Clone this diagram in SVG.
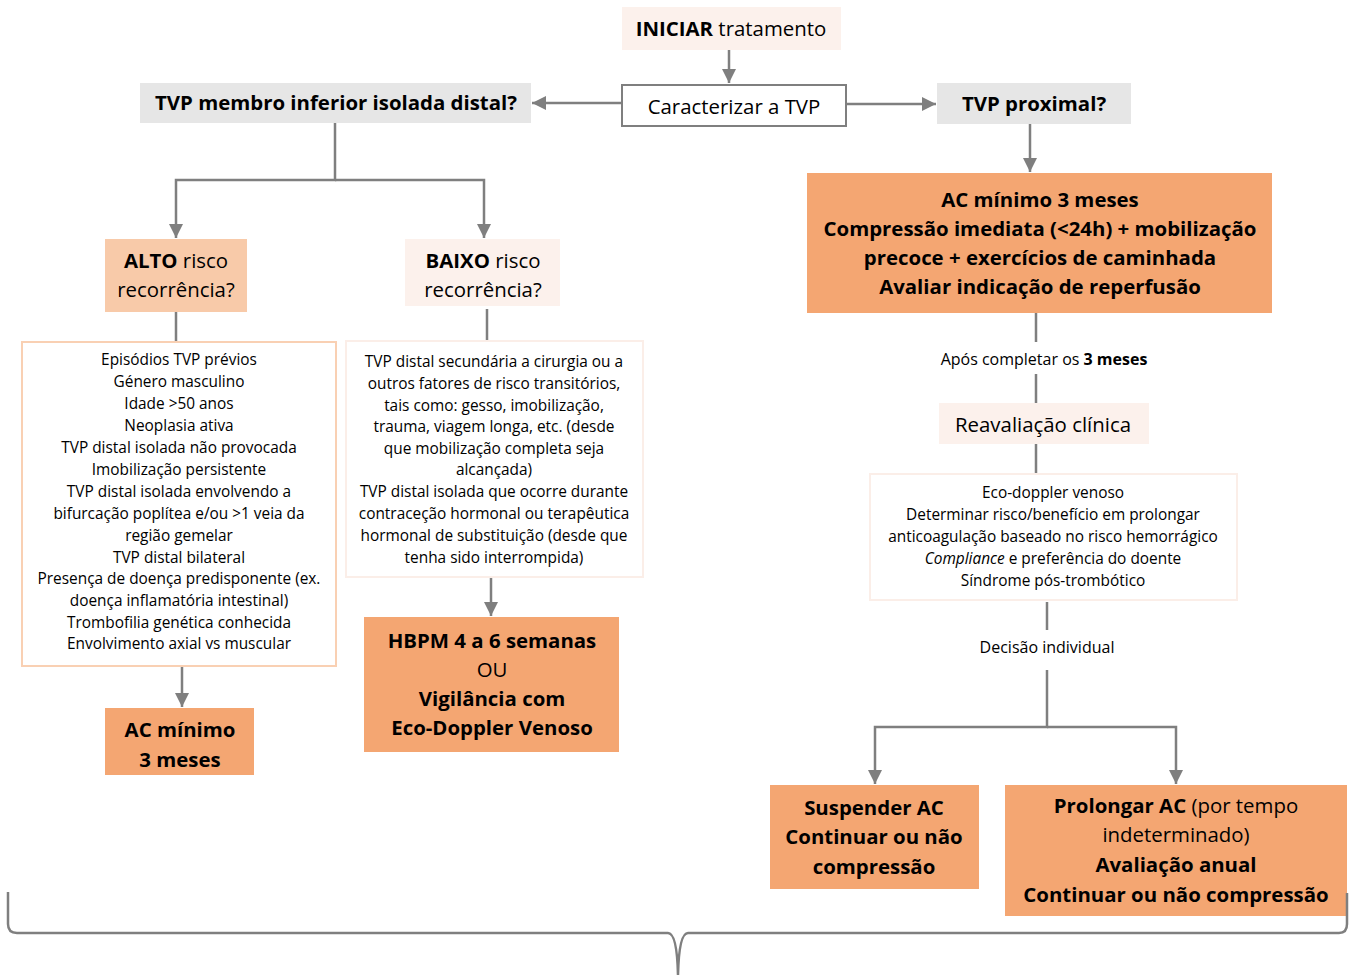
<svg xmlns="http://www.w3.org/2000/svg" width="1351" height="978" viewBox="0 0 1351 978">
<defs>
<marker id="ah" viewBox="0 0 10 10" refX="10" refY="5" markerWidth="14" markerHeight="14" markerUnits="userSpaceOnUse" orient="auto">
<path d="M0,0 L10,5 L0,10 z" fill="#7f7f7f"/>
</marker>
<style>
text{font-family:"Open Sans","Noto Sans","DejaVu Sans",sans-serif;fill:#000;text-anchor:middle}
.t20{font-size:20.4px}
.t16{font-size:16px}
.t15{font-size:15.4px}
.b{font-weight:bold}
.orange{fill:#f4a672}
.lorange{fill:#f8caa9}
.pale{fill:#fcf1ec}
.gray{fill:#e6e6e6}
.conn{fill:none;stroke:#7f7f7f;stroke-width:2.5}
.arr{marker-end:url(#ah)}
</style>
</defs>
<rect width="1351" height="978" fill="#fff"/>

<g id="connectors">
<path class="conn arr" d="M729,50 V83"/>
<path class="conn arr" d="M622,103 H532"/>
<path class="conn arr" d="M846,104 H936"/>
<path class="conn arr" d="M1030,124 V172"/>
<path class="conn arr" d="M335,123 V180 H176 V238"/>
<path class="conn arr" d="M335,180 H484 V238"/>
<path class="conn" d="M176,312 V342"/>
<path class="conn" d="M487,309 V340"/>
<path class="conn arr" d="M182,666 V707"/>
<path class="conn arr" d="M491,577 V616"/>
<path class="conn" d="M1036,313 V342"/>
<path class="conn" d="M1036,374 V403"/>
<path class="conn" d="M1036,444 V473"/>
<path class="conn" d="M1047,602 V630"/>
<path class="conn arr" d="M1047,670 V727 H875 V784"/>
<path class="conn arr" d="M1047,727 H1176 V784"/>
</g>

<g id="iniciar">
<rect class="pale" x="622" y="7" width="219" height="43"/>
<text class="t20" x="731" y="36"><tspan class="b">INICIAR</tspan> tratamento</text>
</g>

<g id="caracterizar">
<rect x="622" y="85" width="224" height="41" fill="#fff" stroke="#7f7f7f" stroke-width="2"/>
<text class="t20" x="734" y="114">Caracterizar a TVP</text>
</g>

<g id="tvp-distal">
<rect class="gray" x="140" y="83" width="391" height="40"/>
<text class="t20 b" x="336" y="110">TVP membro inferior isolada distal?</text>
</g>

<g id="tvp-proximal">
<rect class="gray" x="937" y="83" width="194" height="41"/>
<text class="t20 b" x="1034" y="111">TVP proximal?</text>
</g>

<g id="ac-proximal">
<rect class="orange" x="807" y="173" width="465" height="140"/>
<text class="t20 b" x="1040" y="207">AC mínimo 3 meses</text>
<text class="t20 b" x="1040" y="236">Compressão imediata (&lt;24h) + mobilização</text>
<text class="t20 b" x="1040" y="265">precoce + exercícios de caminhada</text>
<text class="t20 b" x="1040" y="294">Avaliar indicação de reperfusão</text>
</g>

<g id="apos">
<text class="t16" x="1044" y="365">Após completar os <tspan class="b">3 meses</tspan></text>
</g>

<g id="reavaliacao">
<rect class="pale" x="939" y="403" width="210" height="41"/>
<text class="t20" x="1043" y="432">Reavaliação clínica</text>
</g>

<g id="reav-list">
<rect x="870" y="474" width="367" height="126" fill="#fff" stroke="#fbeee8" stroke-width="2"/>
<text class="t15" x="1053" y="498">Eco-doppler venoso</text>
<text class="t15" x="1053" y="520">Determinar risco/benefício em prolongar</text>
<text class="t15" x="1053" y="542">anticoagulação baseado no risco hemorrágico</text>
<text class="t15" x="1053" y="564"><tspan font-style="italic">Compliance</tspan> e preferência do doente</text>
<text class="t15" x="1053" y="586">Síndrome pós-trombótico</text>
</g>

<g id="decisao">
<text class="t16" x="1047" y="653">Decisão individual</text>
</g>

<g id="suspender">
<rect class="orange" x="770" y="785" width="209" height="104"/>
<text class="t20 b" x="874" y="815">Suspender AC</text>
<text class="t20 b" x="874" y="844">Continuar ou não</text>
<text class="t20 b" x="874" y="874">compressão</text>
</g>

<g id="prolongar">
<rect class="orange" x="1005" y="785" width="342" height="131"/>
<text class="t20" x="1176" y="813"><tspan class="b">Prolongar AC</tspan> (por tempo</text>
<text class="t20" x="1176" y="842">indeterminado)</text>
<text class="t20 b" x="1176" y="872">Avaliação anual</text>
<text class="t20 b" x="1176" y="902">Continuar ou não compressão</text>
</g>

<g id="alto">
<rect class="lorange" x="105" y="239" width="142" height="73"/>
<text class="t20" x="176" y="268"><tspan class="b">ALTO</tspan> risco</text>
<text class="t20" x="176" y="297">recorrência?</text>
</g>

<g id="baixo">
<rect class="pale" x="405" y="239" width="155" height="67"/>
<text class="t20" x="483" y="268"><tspan class="b">BAIXO</tspan> risco</text>
<text class="t20" x="483" y="297">recorrência?</text>
</g>

<g id="alto-list">
<rect x="22" y="342" width="314" height="324" fill="#fff" stroke="#f9d0b3" stroke-width="2"/>
<text class="t15" x="179" y="365">Episódios TVP prévios</text>
<text class="t15" x="179" y="387">Género masculino</text>
<text class="t15" x="179" y="409">Idade &gt;50 anos</text>
<text class="t15" x="179" y="431">Neoplasia ativa</text>
<text class="t15" x="179" y="453">TVP distal isolada não provocada</text>
<text class="t15" x="179" y="475">Imobilização persistente</text>
<text class="t15" x="179" y="497">TVP distal isolada envolvendo a</text>
<text class="t15" x="179" y="519">bifurcação poplítea e/ou &gt;1 veia da</text>
<text class="t15" x="179" y="541">região gemelar</text>
<text class="t15" x="179" y="563">TVP distal bilateral</text>
<text class="t15" x="179" y="584">Presença de doença predisponente (ex.</text>
<text class="t15" x="179" y="606">doença inflamatória intestinal)</text>
<text class="t15" x="179" y="628">Trombofilia genética conhecida</text>
<text class="t15" x="179" y="649">Envolvimento axial vs muscular</text>
</g>

<g id="baixo-list">
<rect x="346" y="341" width="297" height="236" fill="#fff" stroke="#fbeee8" stroke-width="2"/>
<text class="t15" x="494" y="367">TVP distal secundária a cirurgia ou a</text>
<text class="t15" x="494" y="389">outros fatores de risco transitórios,</text>
<text class="t15" x="494" y="411">tais como: gesso, imobilização,</text>
<text class="t15" x="494" y="432">trauma, viagem longa, etc. (desde</text>
<text class="t15" x="494" y="454">que mobilização completa seja</text>
<text class="t15" x="494" y="475">alcançada)</text>
<text class="t15" x="494" y="497">TVP distal isolada que ocorre durante</text>
<text class="t15" x="494" y="519">contraceção hormonal ou terapêutica</text>
<text class="t15" x="494" y="541">hormonal de substituição (desde que</text>
<text class="t15" x="494" y="563">tenha sido interrompida)</text>
</g>

<g id="hbpm">
<rect class="orange" x="364" y="617" width="255" height="135"/>
<text class="t20 b" x="492" y="648">HBPM 4 a 6 semanas</text>
<text class="t20" x="492" y="677">OU</text>
<text class="t20 b" x="492" y="706">Vigilância com</text>
<text class="t20 b" x="492" y="735">Eco-Doppler Venoso</text>
</g>

<g id="ac-distal">
<rect class="orange" x="105" y="708" width="149" height="67"/>
<text class="t20 b" x="180" y="737">AC mínimo</text>
<text class="t20 b" x="180" y="767">3 meses</text>
</g>

<g id="brace">
<path d="M8,892 V924 Q8,933 17,933 H668 Q677,933 678,975 Q679,933 688,933 H1339 Q1347,933 1347,924 V893" fill="none" stroke="#7f7f7f" stroke-width="2.5"/>
</g>
</svg>
